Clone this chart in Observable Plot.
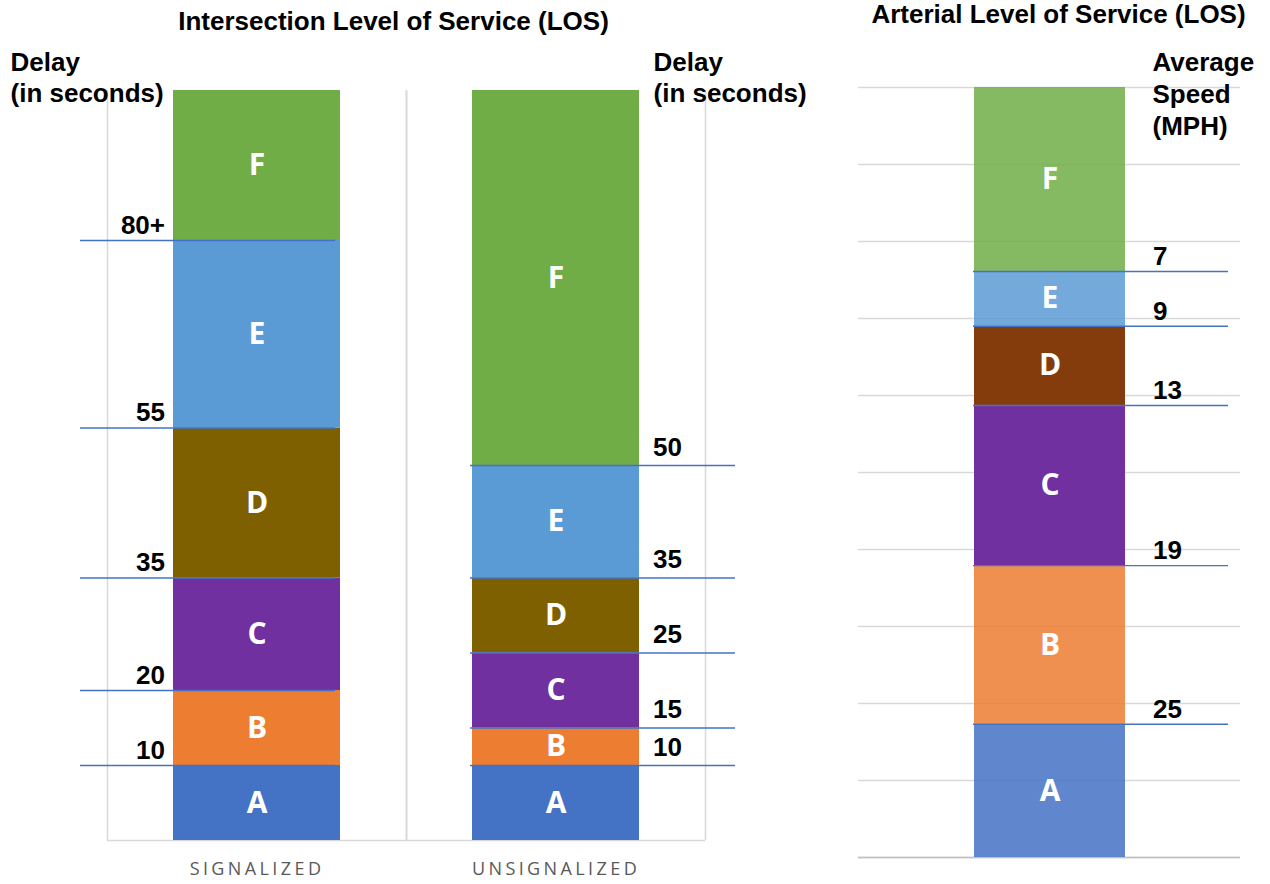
<!DOCTYPE html>
<html>
<head>
<meta charset="utf-8">
<script src="https://cdn.jsdelivr.net/npm/d3@7"></script>
<script src="https://cdn.jsdelivr.net/npm/@observablehq/plot@0.6"></script>
<style>
  body { margin: 0; background: #fff; }
  #wrap { position: relative; width: 1270px; height: 884px; overflow: hidden; }
  #left { position: absolute; left: 0; top: 0; }
  #right { position: absolute; left: 830px; top: 0; }
  g[aria-label="x-axis tick label"] text { letter-spacing: 3.4px; }
</style>
</head>
<body>
<div id="wrap"><div id="left"></div><div id="right"></div></div>
<script>
// ---------------- Data ----------------
const grades = ["A", "B", "C", "D", "E", "F"];
const intersectionTypes = ["SIGNALIZED", "UNSIGNALIZED"];
// upper delay bound (seconds) of grades A..E
const signalizedDelayBounds = [10, 20, 35, 55, 80];
const unsignalizedDelayBounds = [10, 15, 25, 35, 50];
const signalizedDelayLabels = ["10", "20", "35", "55", "80+"];
const unsignalizedDelayLabels = ["10", "15", "25", "35", "50"];
const delayAxisTop = 100;
// arterial bar: visual share of each grade (A..F)
const arterialBarShares = [17.3, 20.6, 20.8, 10.3, 7.1, 23.9];
const arterialSpeedLabels = ["25", "19", "13", "9", "7"]; // MPH at the A/B, B/C, C/D, D/E, E/F boundaries
const arterialGridTicks = [0, 10, 20, 30, 40, 50, 60, 70, 80, 90, 100];
const arterialCategory = ["ARTERIAL"];

// ---------------- Styles ----------------
const intersectionColors = ["#4472c4", "#ed7d31", "#7030a0", "#7f6000", "#5b9bd5", "#70ad47"];
const arterialColors = ["#4472c4", "#ed7d31", "#7030a0", "#843c0c", "#5b9bd5", "#70ad47"];
const arterialOpacity = {A: 0.85, B: 0.85, C: 1, D: 1, E: 0.85, F: 0.85};
const BOLD = "Liberation Sans, Arial, Helvetica, sans-serif";
const LETTER = "Open Sans, sans-serif";
const lineBlue = "#4472c4";
const gridGray = "#d9d9d9";
const FS = 26;

// ---------------- Derived tables ----------------
function segments(type, bounds, top) {
  const edges = [0, ...bounds, top];
  return grades.map((g, i) => ({type, grade: g, value: edges[i + 1] - edges[i]}));
}
const delayRows = [
  ...segments("SIGNALIZED", signalizedDelayBounds, delayAxisTop),
  ...segments("UNSIGNALIZED", unsignalizedDelayBounds, delayAxisTop)
];
const sigLines = signalizedDelayBounds.map((v, i) => ({type: "SIGNALIZED", value: v, label: signalizedDelayLabels[i]}));
const unsigLines = unsignalizedDelayBounds.map((v, i) => ({type: "UNSIGNALIZED", value: v, label: unsignalizedDelayLabels[i]}));

const arterialRows = grades.map((g, i) => ({road: arterialCategory[0], grade: g, value: arterialBarShares[i]}));
const arterialCum = d3.cumsum(arterialBarShares);
const arterialLines = arterialSpeedLabels.map((lab, i) => ({road: arterialCategory[0], value: arterialCum[i], label: lab}));

const boldText = {fontSize: FS, fontWeight: "bold", fill: "black", fontFamily: BOLD};

// ---------------- Left panel: Intersection LOS ----------------
const L = {width: 830, height: 884, top: 90, bottom: 44, left: 107, right: 125};
const halfStep = (L.width - L.left - L.right) / intersectionTypes.length / 2;

const leftPlot = Plot.plot({
  width: L.width, height: L.height,
  marginTop: L.top, marginBottom: L.bottom, marginLeft: L.left, marginRight: L.right,
  style: {fontFamily: BOLD, background: "white", overflow: "visible"},
  x: {type: "band", domain: intersectionTypes, paddingInner: 0.44, paddingOuter: 0.22, label: null},
  y: {domain: [0, delayAxisTop], axis: null},
  color: {domain: grades, range: intersectionColors},
  marks: [
    Plot.ruleX(intersectionTypes, {x: d => d, y1: 0, y2: delayAxisTop, dx: -halfStep, stroke: gridGray, strokeWidth: 1.6}),
    Plot.ruleX(intersectionTypes, {x: d => d, y1: 0, y2: delayAxisTop, dx: halfStep, stroke: gridGray, strokeWidth: 1.6}),
    Plot.ruleY([0], {stroke: gridGray, strokeWidth: 1.6}),
    Plot.barY(delayRows, Plot.stackY({x: "type", y: "value", fill: "grade"})),
    Plot.text(delayRows, Plot.stackY({x: "type", y: "value", text: "grade", fill: "white",
      fontFamily: LETTER, fontWeight: "bold", fontSize: 30})),
    Plot.ruleY(sigLines, {y: "value", x1: "type", x2: "type", stroke: lineBlue, strokeWidth: 1.4,
      insetLeft: -93, insetRight: 5}),
    Plot.ruleY(unsigLines, {y: "value", x1: "type", x2: "type", stroke: lineBlue, strokeWidth: 1.4,
      insetLeft: -2, insetRight: -96}),
    Plot.text(sigLines, {x: "type", y: "value", text: "label", textAnchor: "end", dx: -92, dy: -15, ...boldText}),
    Plot.text(unsigLines, {x: "type", y: "value", text: "label", textAnchor: "start", dx: 97, dy: -18, ...boldText}),
    Plot.text(["Intersection Level of Service (LOS)"], {frameAnchor: "top-left", lineAnchor: "middle", text: d => d,
      textAnchor: "middle", dx: 393 - L.left, dy: 21 - L.top, ...boldText}),
    Plot.text(["Delay\n(in seconds)"], {frameAnchor: "top-left", lineAnchor: "middle", text: d => d, textAnchor: "start",
      lineHeight: 1.2, dx: 10 - L.left, dy: 76 - L.top, ...boldText}),
    Plot.text(["Delay\n(in seconds)"], {frameAnchor: "top-left", lineAnchor: "middle", text: d => d, textAnchor: "start",
      lineHeight: 1.2, dx: 653 - L.left, dy: 76 - L.top, ...boldText}),
    Plot.axisX({tickSize: 0, tickPadding: 22, fontSize: 18, fontFamily: LETTER, color: "#595959", label: null})
  ]
});
document.getElementById("left").appendChild(leftPlot);

// ---------------- Right panel: Arterial LOS ----------------
const R = {width: 440, height: 884, top: 87, bottom: 27, left: 28, right: 30};
const rightPlot = Plot.plot({
  width: R.width, height: R.height,
  marginTop: R.top, marginBottom: R.bottom, marginLeft: R.left, marginRight: R.right,
  style: {fontFamily: BOLD, background: "white", overflow: "visible"},
  x: {type: "band", domain: arterialCategory, paddingInner: 0, paddingOuter: 0.757, axis: null},
  y: {domain: [0, 100], axis: null},
  color: {domain: grades, range: arterialColors},
  opacity: {type: "identity"},
  marks: [
    Plot.gridY(arterialGridTicks, {stroke: gridGray, strokeOpacity: 1, strokeWidth: 1.3}),
    Plot.ruleY([0], {stroke: "#bfbfbf", strokeWidth: 1.5}),
    Plot.barY(arterialRows, Plot.stackY({x: "road", y: "value", fill: "grade",
      fillOpacity: d => arterialOpacity[d.grade]})),
    Plot.text(arterialRows, Plot.stackY({x: "road", y: "value", text: "grade", fill: "white",
      fontFamily: LETTER, fontWeight: "bold", fontSize: 30})),
    Plot.ruleY(arterialLines, {y: "value", stroke: lineBlue, strokeWidth: 1.4,
      insetLeft: 115, insetRight: 12}),
    Plot.text(arterialLines, {x: "road", y: "value", text: "label", textAnchor: "start", dx: 103, dy: -15, ...boldText}),
    Plot.text(["Arterial Level of Service (LOS)"], {frameAnchor: "top-left", lineAnchor: "middle", text: d => d,
      textAnchor: "middle", dx: 228 - R.left, dy: 14 - R.top, ...boldText}),
    Plot.text(["Average\nSpeed\n(MPH)"], {frameAnchor: "top-left", lineAnchor: "middle", text: d => d, textAnchor: "start",
      lineHeight: 1.24, dx: 322 - R.left, dy: 92 - R.top, ...boldText})
  ]
});
document.getElementById("right").appendChild(rightPlot);
</script>
</body>
</html>
